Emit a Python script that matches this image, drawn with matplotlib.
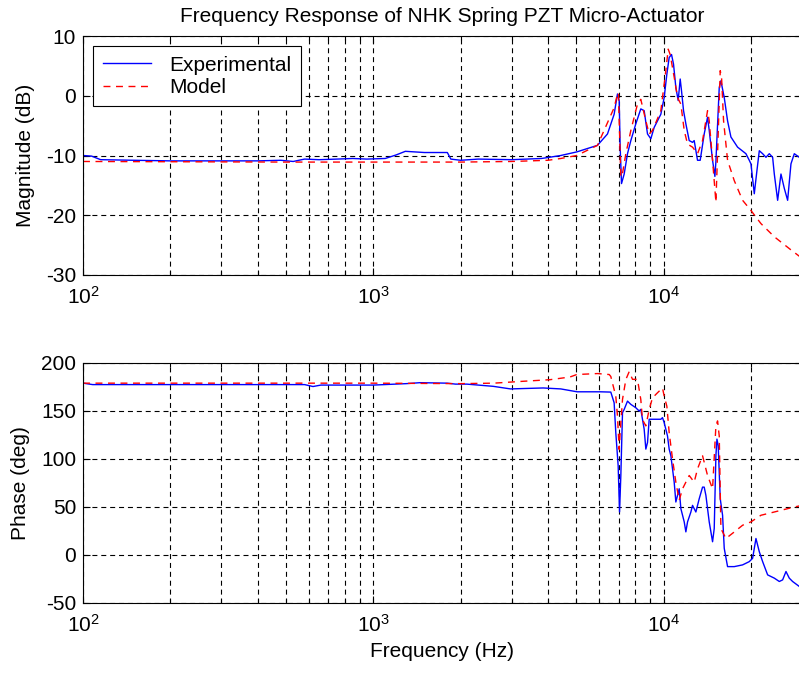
import numpy as np
import matplotlib
matplotlib.use("Agg")
import matplotlib.pyplot as plt
from matplotlib.ticker import FixedLocator, LogLocator, NullFormatter, FuncFormatter

plt.rcParams['font.family'] = ['Liberation Sans', 'DejaVu Sans']
plt.rcParams['mathtext.fontset'] = 'custom'
plt.rcParams['mathtext.rm'] = 'Liberation Sans'
plt.rcParams['mathtext.it'] = 'Liberation Sans:italic'
plt.rcParams['mathtext.bf'] = 'Liberation Sans:bold'
plt.rcParams['axes.unicode_minus'] = False

TITLE = "Frequency Response of NHK Spring PZT Micro-Actuator"
XLABEL = "Frequency (Hz)"
YLABEL_MAG = "Magnitude (dB)"
YLABEL_PH = "Phase (deg)"
LEGEND = ["Experimental", "Model"]
XLIM = (100, 30000)
MAG_TICKS = [-30, -20, -10, 0, 10]
PH_TICKS = [-50, 0, 50, 100, 150, 200]
X_TICKS = [100, 1000, 10000]

# ---- Experimental magnitude (dB)
exp_mag_f = [100, 107, 115, 150, 200, 300, 400, 480, 530, 580, 650, 750, 850, 950, 1100, 1200,
             1290, 1500, 1800, 1850, 2000, 2300, 3000, 3800, 4426, 5025, 5922, 6411, 6759, 6940,
             7035, 7090, 7166, 7320, 7515, 7717, 8027, 8351, 8578, 8808, 9043, 9286, 9790, 10053,
             10268, 10459, 10656, 10826, 11028, 11235, 11415, 11537, 11722, 11940, 12260, 12589,
             12755, 13097, 13378, 13810, 14181, 14370, 14757, 15032, 15153, 15560, 15766, 16189,
             16622, 17068, 17996, 19229, 19745, 20010, 20546, 20986, 21380, 21954, 22541, 23145,
             23765, 24082, 24728, 25390, 26070, 26768, 27485, 28221, 29373, 30000]
exp_mag = [-10.0, -10.1, -10.7, -10.8, -10.9, -10.9, -10.9, -10.8, -11.0, -10.6, -10.7, -10.6,
           -10.5, -10.6, -10.5, -9.9, -9.3, -9.5, -9.5, -10.6, -10.8, -10.6, -10.7, -10.5, -10.0,
           -9.4, -8.3, -6.4, -3.1, 0.3, -0.8, -8.6, -14.7, -13.1, -9.7, -7.5, -4.7, -2.2, -2.5,
           -6.4, -7.2, -5.3, -3.1, -0.3, 3.6, 6.4, 6.9, 5.3, 1.4, -0.8, 2.8, 0.8, -2.5, -4.7,
           -7.5, -7.8, -7.5, -10.8, -10.8, -6.4, -3.6, -5.8, -10.8, -13.5, -11.0, 1.4, 2.5,
           -0.3, -4.2, -6.9, -8.6, -9.7, -10.8, -11.4, -16.4, -12.5, -9.2, -9.7, -10.3, -9.7,
           -10.3, -13.1, -17.5, -13.1, -15.5, -17.5, -11.4, -9.7, -10.3, -10.0]

# ---- Model magnitude (dB)
mod_mag_f = [100, 500, 1000, 2000, 3000, 4000, 4426, 5025, 5922, 6759, 6940, 6990, 7128, 7223,
             7417, 7717, 8134, 8351, 8692, 8926, 9166, 9790, 10186, 10378, 10544, 10884, 11176,
             11476, 11785, 12100, 12589, 13097, 13630, 14181, 14370, 14757, 15153, 15354, 15683,
             15849, 16103, 16622, 17526, 18727, 20010, 21663, 24082, 27485, 30000]
mod_mag = [-11.0, -11.1, -11.1, -11.1, -11.0, -10.8, -10.5, -10.0, -8.3, -2.0, 0.3, 0.5, -13.6,
           -13.0, -9.7, -5.8, -1.4, -0.6, -4.2, -6.4, -5.8, -2.5, 4.2, 7.8, 6.9, 3.1, -0.3, -1.4,
           -5.8, -8.1, -8.6, -9.7, -7.5, -2.5, -4.2, -10.8, -17.8, -9.7, 4.2, 3.1, -4.2, -10.8,
           -14.2, -17.5, -19.2, -21.4, -23.6, -25.8, -27.2]

# ---- Experimental phase (deg)
exp_ph_f = [100, 108, 300, 580, 620, 660, 1000, 1300, 1450, 1800, 1920, 2100, 2590, 2970, 3850,
            4426, 5040, 6070, 6582, 6759, 6848, 6978, 7055, 7128, 7223, 7320, 7515, 7717, 8027,
            8243, 8351, 8578, 8692, 8808, 8926, 9043, 9286, 9790, 9920, 10053, 10320, 10459,
            10600, 10884, 11028, 11324, 11476, 11785, 11940, 12100, 12424, 12589, 12926, 13274,
            13630, 13810, 13996, 14370, 14757, 14953, 15153, 15278, 15435, 15683, 15976, 16189,
            16622, 17526, 18727, 19745, 20278, 20546, 20820, 21380, 21954, 22840, 24082, 25060,
            25727, 26420, 27120, 27846, 29373, 30000]
exp_ph = [179, 177.5, 177.5, 177.5, 175.5, 177, 177, 178.5, 179.5, 179, 178, 178, 175.7, 173,
          174, 173, 170, 170, 169.7, 158.6, 127.6, 93.1, 44.8, 82.8, 148.3, 151.7, 160.3, 156.9,
          153.4, 150, 151.7, 131, 110.3, 117.2, 141.4, 141.4, 141.4, 141.4, 143.1, 137.9, 124.1,
          110.3, 103.4, 75.9, 55.2, 69, 48.3, 34.5, 24.1, 34.5, 44.8, 51.7, 44.8, 58.6, 70.7,
          70.7, 62.1, 34.5, 13.8, 27.6, 103.4, 120.7, 113.8, 58.6, 41.4, 6.9, -12.1, -12.1,
          -10.3, -6.9, -3.4, 6.9, 17.2, 3.4, -6.9, -20.7, -24.1, -27.6, -25.9, -17.2, -24.1,
          -27.6, -32.8, -33]

# ---- Model phase (deg)
mod_ph_f = [100, 1000, 2000, 2600, 3300, 4060, 4760, 5025, 5922, 6500, 6582, 6848, 6940, 7035,
            7090, 7223, 7417, 7617, 7819, 8134, 8351, 8463, 8692, 8926, 9166, 9535, 9920, 10053,
            10268, 10459, 10740, 11028, 11324, 11630, 12260, 12755, 13097, 13630, 14181, 14757,
            15153, 15354, 15560, 15766, 16404, 17526, 18727, 20010, 21663, 24082, 28221, 30000]
mod_ph = [179, 179, 178.5, 179, 181, 182.6, 185.4, 188, 189, 188, 186, 165.5, 144.8, 110, 127.6,
          162, 182.8, 191, 183, 183, 162, 141, 134.5, 151.7, 163.8, 169, 174, 165.5, 155, 127.6,
          100, 75.9, 57, 69, 82.8, 75.9, 89.7, 103.4, 82.8, 69, 134.5, 139.7, 124, 27.6, 17.2,
          24, 31, 34.5, 41.4, 44.8, 50, 51.7]

W, H = 799, 679
fig = plt.figure(figsize=(W / 100, H / 100), dpi=100)
fig.patch.set_facecolor('white')

left = 83 / W
right = 802 / W
ax1 = fig.add_axes([left, 1 - 275 / H, right - left, 239 / H])
ax2 = fig.add_axes([left, 1 - 603 / H, right - left, 240 / H])

FS = 15
grid_style = dict(color='black', linestyle=(0, (4.5, 3.5)), linewidth=0.8)

def fmt(v, pos):
    e = int(round(np.log10(v)))
    return r'$\mathregular{10^{%d}}$' % e

for ax in (ax1, ax2):
    ax.set_xscale('log')
    ax.set_xlim(*XLIM)
    ax.xaxis.set_major_locator(FixedLocator(X_TICKS))
    ax.xaxis.set_minor_locator(LogLocator(base=10, subs=np.arange(2, 10), numticks=20))
    ax.xaxis.set_major_formatter(FuncFormatter(fmt))
    ax.xaxis.set_minor_formatter(NullFormatter())
    ax.grid(True, which='both', axis='x', **grid_style)
    ax.grid(True, which='major', axis='y', **grid_style)
    ax.tick_params(which='both', direction='in', top=True, right=True, labelsize=FS,
                   width=0.8, color='black')
    ax.tick_params(which='major', length=5)
    ax.tick_params(which='minor', length=3)
    ax.tick_params(axis='x', pad=8)
    ax.tick_params(axis='y', pad=5)
    for s in ax.spines.values():
        s.set_linewidth(0.8)
        s.set_color('black')

l1, = ax1.plot(exp_mag_f, exp_mag, color='#0000FF', linewidth=1.0)
l2, = ax1.plot(mod_mag_f, mod_mag, color='#FF0000', linewidth=1.0, linestyle=(0, (5, 4)))
ax1.set_ylim(-30, 10)
ax1.set_yticks(MAG_TICKS)
ax1.set_ylabel(YLABEL_MAG, fontsize=FS, labelpad=8)
ax1.set_title(TITLE, fontsize=FS, pad=10)
leg = ax1.legend([l1, l2], LEGEND, loc='upper left', fontsize=FS, frameon=True, fancybox=False,
                 framealpha=1, edgecolor='black', borderpad=0.45, labelspacing=0.15,
                 handlelength=2.3, handletextpad=0.9, borderaxespad=0.5)
leg.get_frame().set_linewidth(0.8)

ax2.plot(exp_ph_f, exp_ph, color='#0000FF', linewidth=1.0)
ax2.plot(mod_ph_f, mod_ph, color='#FF0000', linewidth=1.0, linestyle=(0, (5, 4)))
ax2.set_ylim(-50, 200)
ax2.set_yticks(PH_TICKS)
ax2.set_ylabel(YLABEL_PH, fontsize=FS, labelpad=8)
ax2.set_xlabel(XLABEL, fontsize=FS, labelpad=4)

fig.savefig('out.png', dpi=100)
